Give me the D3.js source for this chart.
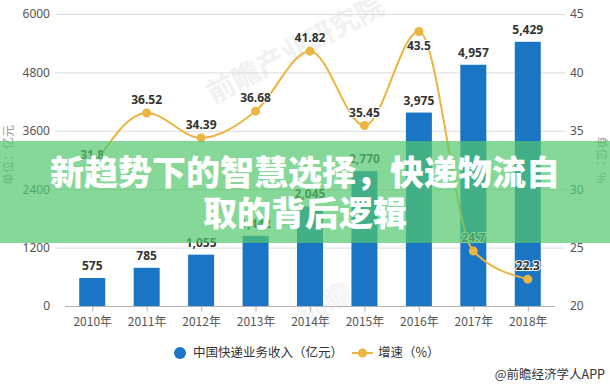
<!DOCTYPE html>
<html>
<head>
<meta charset="utf-8">
<script src="https://cdn.jsdelivr.net/npm/d3@7"></script>
<style>
  body { margin: 0; background: #fff; }
  svg text { font-family: 'Noto Sans CJK SC', 'Noto Sans', sans-serif; }
</style>
</head>
<body>
<svg id="chart"></svg>
<script>
'use strict';

var years = ['2010年', '2011年', '2012年', '2013年', '2014年', '2015年', '2016年', '2017年', '2018年'];
var revenue = [575, 785, 1055, 1442, 2045, 2770, 3975, 4957, 5429];
var growth = [31.8, 36.52, 34.39, 36.68, 41.82, 35.45, 43.5, 24.7, 22.3];
var leftTicks = [0, 1200, 2400, 3600, 4800, 6000];
var rightTicks = [20, 25, 30, 35, 40, 45];
var titleLines = ['新趋势下的智慧选择，快递物流自', '取的背后逻辑'];

var width = 610,
    height = 386;

var svg = d3.select('#chart')
  .attr('width', width)
  .attr('height', height);

var x = d3.scalePoint()
  .domain(years)
  .range([65, 555])
  .padding(0.5);

var yLeft = d3.scaleLinear()
  .domain([0, 6000])
  .range([306, 14]);

var yRight = d3.scaleLinear()
  .domain([20, 45])
  .range([306, 14]);

// faint watermark
svg.append('text')
  .attr('transform', 'translate(300,58) rotate(-28)')
  .attr('text-anchor', 'middle')
  .style('font-size', '28px')
  .style('font-weight', 'bold')
  .style('fill', '#f1f1f1')
  .text('前瞻产业研究院');
svg.append('text')
  .attr('transform', 'translate(330,312) rotate(-28)')
  .attr('text-anchor', 'middle')
  .style('font-size', '28px')
  .style('font-weight', 'bold')
  .style('fill', '#f4f4f4')
  .text('前瞻');

// grid
svg.append('g').selectAll('line')
  .data(leftTicks.slice(1))
  .enter()
  .append('line')
  .attr('x1', 55)
  .attr('x2', 565)
  .attr('y1', d => yLeft(d) + 0.5)
  .attr('y2', d => yLeft(d) + 0.5)
  .style('stroke', '#dcdcdc')
  .style('stroke-width', 1);

// left axis labels
var leftAxis = d3.axisLeft(yLeft).tickValues(leftTicks).tickFormat(d3.format('d')).tickSize(0).tickPadding(0);
svg.append('g')
  .attr('transform', 'translate(50,0)')
  .call(leftAxis)
  .call(g => g.select('.domain').remove())
  .selectAll('text')
  .style('font-size', '12px')
  .style('fill', '#555')
  .style('font-family', "'Noto Sans', sans-serif");

var rightAxis = d3.axisRight(yRight).tickValues(rightTicks).tickSize(0).tickPadding(0);
svg.append('g')
  .attr('transform', 'translate(570,0)')
  .call(rightAxis)
  .call(g => g.select('.domain').remove())
  .selectAll('text')
  .style('font-size', '12px')
  .style('fill', '#555')
  .style('font-family', "'Noto Sans', sans-serif");

// axis titles
svg.append('text')
  .attr('transform', 'translate(13,155) rotate(-90)')
  .attr('text-anchor', 'middle')
  .style('font-size', '12px')
  .style('fill', '#999')
  .text('单位：亿元');
svg.append('text')
  .attr('transform', 'translate(597,160) rotate(90)')
  .attr('text-anchor', 'middle')
  .style('font-size', '12px')
  .style('fill', '#999')
  .text('单位：%');

// bars
var barW = 26;
svg.append('g').selectAll('rect')
  .data(revenue)
  .enter()
  .append('rect')
  .attr('x', (d, i) => x(years[i]) - barW / 2)
  .attr('width', barW)
  .attr('y', d => yLeft(d))
  .attr('height', d => yLeft(0) - yLeft(d))
  .style('fill', '#1b75c5');

// x axis
var xAxis = d3.axisBottom(x).tickSize(5).tickPadding(6);
var xg = svg.append('g')
  .attr('transform', 'translate(0,306.5)')
  .call(xAxis);
xg.select('.domain').attr('d', 'M65,0H555').style('stroke', '#b0b0b0');
xg.selectAll('.tick line').style('stroke', '#b0b0b0');
xg.selectAll('text')
  .style('font-size', '12px')
  .style('fill', '#555');

// bar labels
svg.append('g').selectAll('text')
  .data(revenue)
  .enter()
  .append('text')
  .attr('x', (d, i) => x(years[i]))
  .attr('y', d => yLeft(d) - 8)
  .attr('text-anchor', 'middle')
  .style('font-size', '12px')
  .style('font-weight', 'bold')
  .style('fill', '#333')
  .style('font-family', "'Noto Sans', sans-serif")
  .style('paint-order', 'stroke')
  .style('stroke', '#fff')
  .style('stroke-width', 2)
  .text(d => d3.format(',')(d));

// growth line
var line = d3.line()
  .x((d, i) => x(years[i]))
  .y(d => yRight(d))
  .curve(d3.curveMonotoneX);

svg.append('path')
  .datum(growth)
  .attr('d', line)
  .style('fill', 'none')
  .style('stroke', '#ecb440')
  .style('stroke-width', 2);

svg.append('g').selectAll('circle')
  .data(growth)
  .enter()
  .append('circle')
  .attr('cx', (d, i) => x(years[i]))
  .attr('cy', d => yRight(d))
  .attr('r', 4.5)
  .style('fill', '#ecb440');

svg.append('g').selectAll('text')
  .data(growth)
  .enter()
  .append('text')
  .attr('x', (d, i) => x(years[i]))
  .attr('y', (d, i) => i == 6 ? yRight(d) + 18 : yRight(d) - 9)
  .attr('text-anchor', 'middle')
  .style('font-size', '12px')
  .style('font-weight', 'bold')
  .style('fill', '#333')
  .style('font-family', "'Noto Sans', sans-serif")
  .style('paint-order', 'stroke')
  .style('stroke', '#fff')
  .style('stroke-width', 2)
  .text(d => d);

// legend
var legend = svg.append('g');
legend.append('circle')
  .attr('cx', 180)
  .attr('cy', 353)
  .attr('r', 6)
  .style('fill', '#1b75c5');
legend.append('text')
  .attr('x', 193)
  .attr('y', 353)
  .attr('dy', '0.35em')
  .style('font-size', '12.5px')
  .style('fill', '#333')
  .text('中国快递业务收入（亿元）');
legend.append('line')
  .attr('x1', 352)
  .attr('x2', 373)
  .attr('y1', 353)
  .attr('y2', 353)
  .style('stroke', '#ecb440')
  .style('stroke-width', 2);
legend.append('circle')
  .attr('cx', 362.5)
  .attr('cy', 353)
  .attr('r', 4.5)
  .style('fill', '#ecb440');
legend.append('text')
  .attr('x', 378)
  .attr('y', 353)
  .attr('dy', '0.35em')
  .style('font-size', '12.5px')
  .style('fill', '#333')
  .text('增速（%）');

svg.append('text')
  .attr('x', 605)
  .attr('y', 375)
  .attr('dy', '0.35em')
  .attr('text-anchor', 'end')
  .style('font-size', '12.5px')
  .style('fill', '#333')
  .text('@前瞻经济学人APP');

// title band
svg.append('rect')
  .attr('x', 0)
  .attr('y', 141)
  .attr('width', width)
  .attr('height', 102)
  .style('fill', 'rgb(82,199,108)')
  .style('fill-opacity', 0.7);

svg.append('g').selectAll('text')
  .data(titleLines)
  .enter()
  .append('text')
  .attr('x', width / 2)
  .attr('y', (d, i) => 173 + i * 41)
  .attr('dy', '0.35em')
  .attr('text-anchor', 'middle')
  .style('font-size', '34px')
  .style('font-weight', 900)
  .style('fill', '#fff')
  .text(d => d);
</script>
</body>
</html>
